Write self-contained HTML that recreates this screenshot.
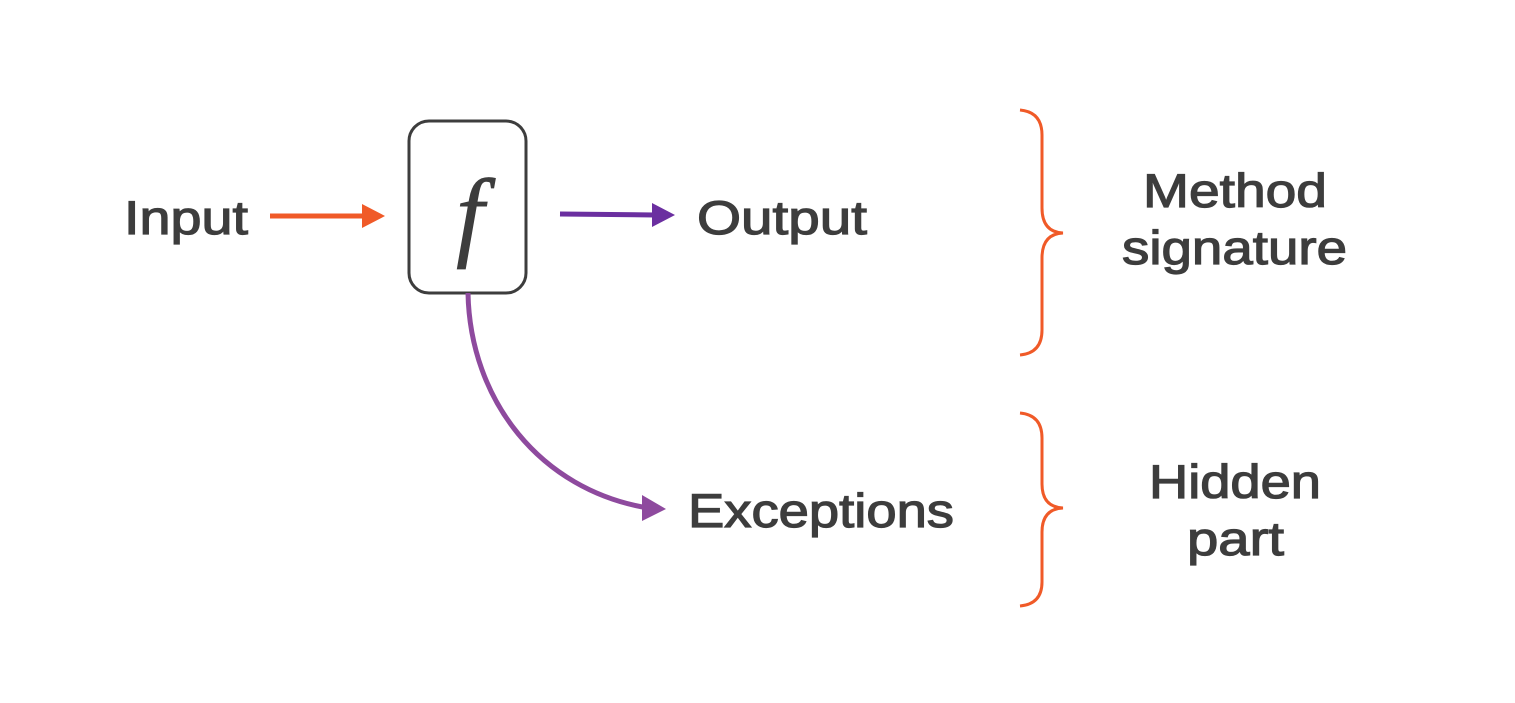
<!DOCTYPE html>
<html><head><meta charset="utf-8"><style>
html,body{margin:0;padding:0;background:#fff;}
svg{display:block;}
text{font-family:"Liberation Sans",sans-serif;fill:#3d3d3d;stroke:#3d3d3d;stroke-width:1.2;}
</style></head><body>
<svg width="1515" height="703" viewBox="0 0 1515 703" xmlns="http://www.w3.org/2000/svg">
<rect width="1515" height="703" fill="#fff"/>
<!-- box -->
<rect x="409" y="121" width="117" height="172" rx="20" ry="20" fill="none" stroke="#3d3d3d" stroke-width="3"/>
<text x="470" y="248" text-anchor="middle" style="font-family:'Liberation Serif',serif;font-style:italic;font-size:100px;stroke-width:0.8;">f</text>
<!-- input arrow -->
<line x1="270" y1="216" x2="365" y2="216" stroke="#f05a28" stroke-width="5"/>
<polygon points="362,204 385,216 362,228" fill="#f05a28"/>
<!-- output arrow -->
<line x1="560" y1="214" x2="655" y2="215" stroke="#6b2fa0" stroke-width="5"/>
<polygon points="652,203 675,215 652,227" fill="#6b2fa0"/>
<!-- exception curve -->
<path d="M468,293 C470,400 540,490 648,508" fill="none" stroke="#8e4a9e" stroke-width="5"/>
<polygon points="642,495 666,509 642,521" fill="#8e4a9e"/>
<!-- labels -->
<text x="124" y="234" font-size="47" textLength="124" lengthAdjust="spacingAndGlyphs">Input</text>
<text x="697" y="234" font-size="47" textLength="170" lengthAdjust="spacingAndGlyphs">Output</text>
<text x="688" y="527" font-size="47" textLength="266" lengthAdjust="spacingAndGlyphs">Exceptions</text>
<text x="1143" y="207" font-size="47" textLength="184" lengthAdjust="spacingAndGlyphs">Method</text>
<text x="1122" y="264" font-size="47" textLength="225" lengthAdjust="spacingAndGlyphs">signature</text>
<text x="1149" y="498" font-size="47" textLength="172" lengthAdjust="spacingAndGlyphs">Hidden</text>
<text x="1187" y="555" font-size="47" textLength="97" lengthAdjust="spacingAndGlyphs">part</text>
<!-- braces -->
<path d="M1020,110 Q1042,112 1042,135 L1042,208 Q1042,232 1063,233 Q1042,234 1042,258 L1042,330 Q1042,353 1020,355" fill="none" stroke="#f05a28" stroke-width="3"/>
<path d="M1020,413 Q1042,415 1042,438 L1042,484 Q1042,507 1063,508 Q1042,509 1042,532 L1042,582 Q1042,604 1020,606" fill="none" stroke="#f05a28" stroke-width="3"/>
</svg>
</body></html>
